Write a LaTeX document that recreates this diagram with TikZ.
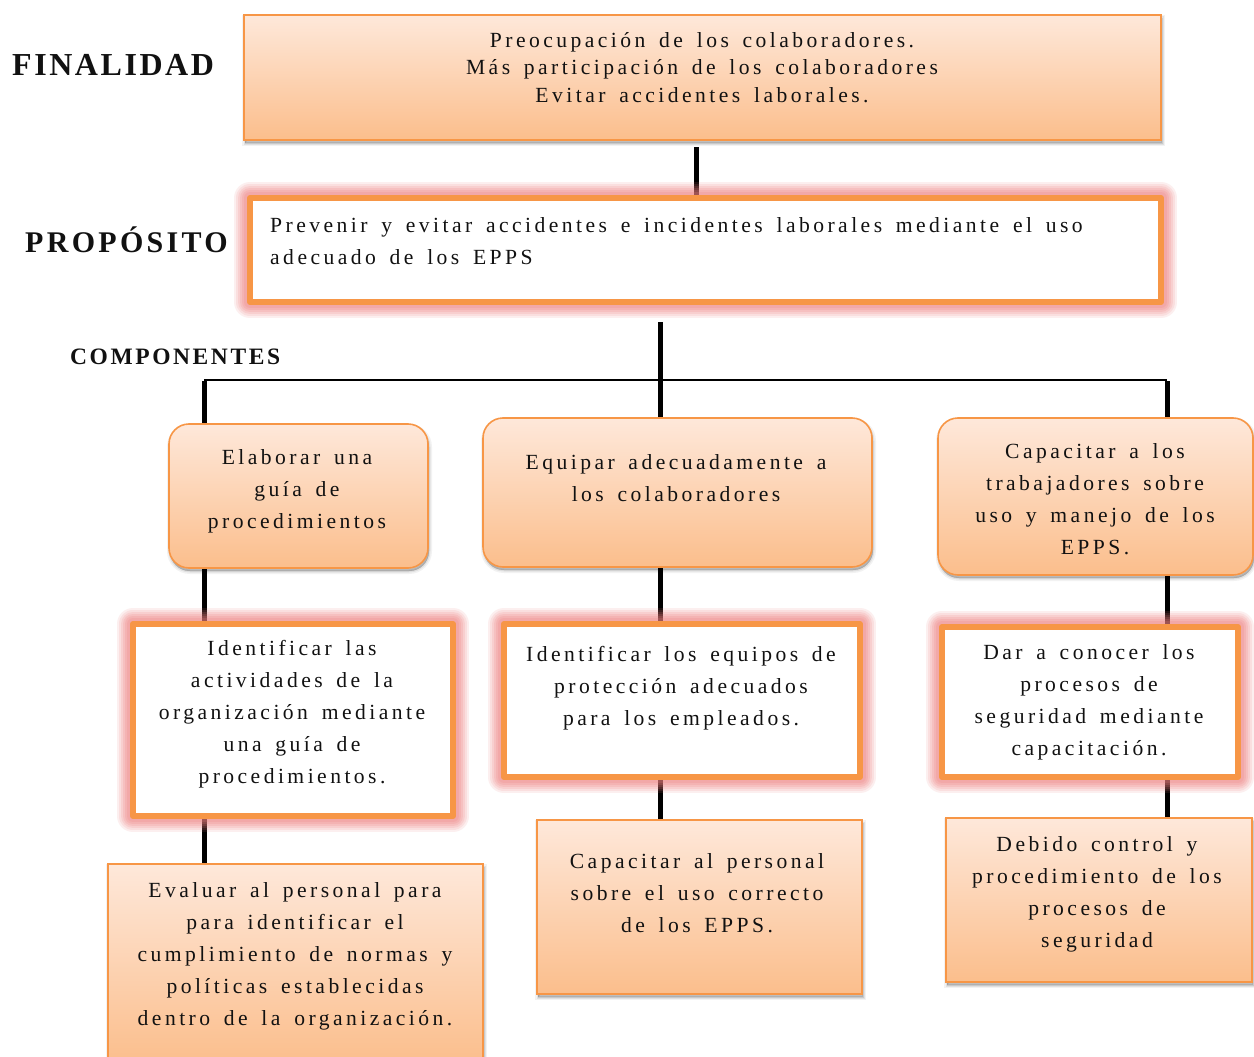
\documentclass[tikz,border=0pt]{standalone}
\usepackage{fontspec}
\setmainfont{Liberation Serif}
\newfontfamily\bodyfont[LetterSpace=16,WordSpace=1.55]{Liberation Serif}
\newfontfamily\headfont[LetterSpace=8]{Liberation Serif}
\newfontfamily\headfontb[LetterSpace=11]{Liberation Serif}
\usetikzlibrary{calc}
\pgfdeclarelayer{bgfill}
\pgfdeclarelayer{background}
\pgfsetlayers{bgfill,background,main}
\definecolor{orng}{HTML}{F79646}
\definecolor{gtop}{HTML}{FEE8DA}
\definecolor{gbot}{HTML}{FBBE8C}
\definecolor{glowc}{HTML}{EE8080}
\definecolor{ink}{HTML}{111111}
\tikzset{
  gradbox/.style={draw=orng, line width=1.6pt, top color=gtop, bottom color=gbot,
    preaction={draw=black, line width=6pt, draw opacity=0.05, fill=black, fill opacity=0.05,
      transform canvas={xshift=1pt, yshift=-3pt}},
    preaction={draw=black, line width=3pt, draw opacity=0.07, fill=black, fill opacity=0.07,
      transform canvas={xshift=1pt, yshift=-3pt}},
    preaction={draw=black, line width=0.5pt, draw opacity=0.1, fill=black, fill opacity=0.1,
      transform canvas={xshift=1pt, yshift=-3pt}},
    inner sep=0pt, rectangle},
  roundbox/.style={gradbox, rounded corners=20pt},
  glowbox/.style={draw=orng, line width=6pt, fill=white, inner sep=0pt, rectangle, line join=round,
    preaction={draw=glowc, line width=32pt, draw opacity=0.12, fill opacity=0},
    preaction={draw=glowc, line width=28pt, draw opacity=0.14, fill opacity=0},
    preaction={draw=glowc, line width=24pt, draw opacity=0.16, fill opacity=0},
    preaction={draw=glowc, line width=20pt, draw opacity=0.18, fill opacity=0},
    preaction={draw=glowc, line width=16pt, draw opacity=0.2, fill opacity=0},
    preaction={draw=glowc, line width=12pt, draw opacity=0.2, fill opacity=0}},
  txt/.style={inner sep=0pt, text=ink, align=center, anchor=north,
    font=\bodyfont\fontsize{21.6}{32}\selectfont},
  head/.style={inner sep=0pt, anchor=base west, text=ink},
  conn/.style={line width=5pt, black},
  hconn/.style={line width=2pt, black}
}
\newcommand\fs{\rule{0pt}{16pt}}
\begin{document}
\begin{tikzpicture}[x=1pt,y=-1pt]
\begin{pgfonlayer}{bgfill}
\fill[white] (0,0) rectangle (1254,1057);
\end{pgfonlayer}
\useasboundingbox (0,0) rectangle (1254,1057);
% boxes
\node[gradbox, minimum width=917pt, minimum height=125pt] (fin) at (702.5,77.5) {};
\node[glowbox, minimum width=911pt, minimum height=104pt] (prop) at (705.5,250) {};
\node[roundbox, minimum width=259pt, minimum height=144pt] (l1) at (298.5,496) {};
\node[roundbox, minimum width=389pt, minimum height=149pt] (m1) at (677.5,492.5) {};
\node[roundbox, minimum width=315pt, minimum height=157pt] (r1) at (1095.5,496.5) {};
\node[glowbox, minimum width=320pt, minimum height=192pt] (l2) at (293,720) {};
\node[glowbox, minimum width=356pt, minimum height=153pt] (m2) at (682,700.5) {};
\node[glowbox, minimum width=296pt, minimum height=150pt] (r2) at (1090,702) {};
\node[gradbox, minimum width=375pt, minimum height=200pt] (l3) at (295.5,964) {};
\node[gradbox, minimum width=325pt, minimum height=174pt] (m3) at (699.5,907) {};
\node[gradbox, minimum width=306pt, minimum height=164pt] (r3) at (1099,900) {};
% texts
\node[txt, font=\bodyfont\fontsize{21.6}{27.5}\selectfont] (tfin) at (702,31) {\fs Preocupación de los colaboradores.\\Más participación de los colaboradores\\Evitar accidentes laborales.};
\node[txt, anchor=north west, align=left] (tprop) at (270,216) {\fs Prevenir y evitar accidentes e incidentes laborales mediante el uso\\adecuado de los EPPS};
\node[txt] (tl1) at (297,448) {\fs Elaborar una\\guía de\\procedimientos};
\node[txt] (tm1) at (676,453) {\fs Equipar adecuadamente a\\los colaboradores};
\node[txt] (tr1) at (1095,442) {\fs Capacitar a los\\trabajadores sobre\\uso y manejo de los\\EPPS.};
\node[txt] (tl2) at (292,639) {\fs Identificar las\\actividades de la\\organización mediante\\una guía de\\procedimientos.};
\node[txt] (tm2) at (681,645) {\fs Identificar los equipos de\\protección adecuados\\para los empleados.};
\node[txt] (tr2) at (1089,643) {\fs Dar a conocer los\\procesos de\\seguridad mediante\\capacitación.};
\node[txt] (tl3) at (295,881) {\fs Evaluar al personal para\\para identificar el\\cumplimiento de normas y\\políticas establecidas\\dentro de la organización.};
\node[txt] (tm3) at (697,852) {\fs Capacitar al personal\\sobre el uso correcto\\de los EPPS.};
\node[txt] (tr3) at (1097,835) {\fs Debido control y\\procedimiento de los\\procesos de\\seguridad};
% headings
\node[head, font=\headfont\bfseries\fontsize{32}{36}\selectfont] (hfin) at (12,76) {FINALIDAD};
\node[head, font=\headfontb\bfseries\fontsize{30}{34}\selectfont] (hprop) at (25,252) {PROPÓSITO};
\node[head, font=\headfontb\bfseries\fontsize{23.5}{28}\selectfont] (hcomp) at (70,364) {COMPONENTES};
% connectors
\coordinate (c1) at (696,147);
\coordinate (c2) at (660,322);
\coordinate (hl) at (204,380);
\coordinate (hr) at (1167,380);
\begin{pgfonlayer}{background}
\draw[conn] (c1) -- (c1 |- prop.north);
\draw[conn] (c2) -- (c2 |- m3.north);
\draw[hconn] (hl) -- (hr);
\draw[conn] ([yshift=-1pt]hl) -- (hl |- l3.north);
\draw[conn] ([yshift=-1pt]hr) -- (hr |- r3.north);
\end{pgfonlayer}
\end{tikzpicture}
\end{document}
